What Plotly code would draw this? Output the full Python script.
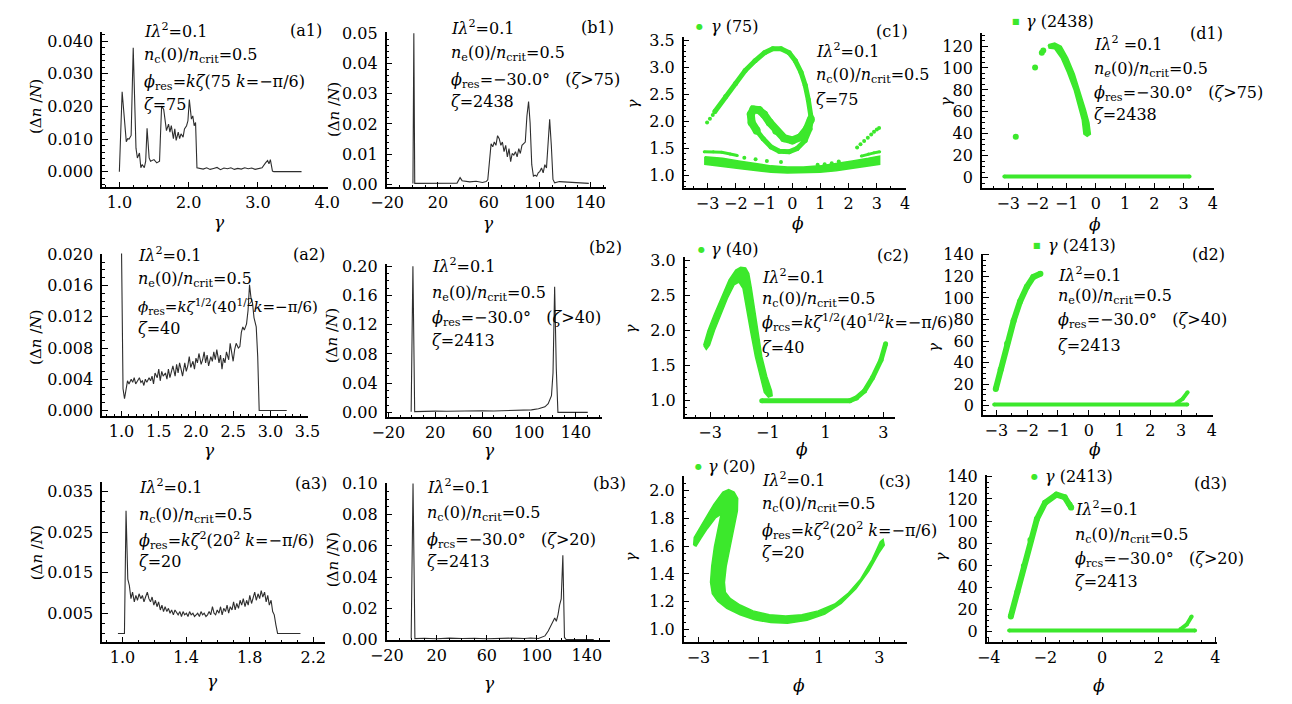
import plotly.graph_objects as go

W, H = 1292, 704

# ---------------------------------------------------------------- data
# (a) electron energy spectra, (gamma, dn/N)
A1 = [(1.00, 0.0000), (1.04, 0.0245), (1.10, 0.0092), (1.12, 0.0101), (1.14, 0.0100),
      (1.17, 0.0111), (1.20, 0.0380), (1.24, 0.0072), (1.26, 0.0042), (1.29, 0.0057),
      (1.31, 0.0012), (1.33, 0.0022), (1.36, 0.0012), (1.38, 0.0032), (1.40, 0.0133),
      (1.43, 0.0042), (1.45, 0.0032), (1.50, 0.0037), (1.54, 0.0027), (1.58, 0.0032),
      (1.59, 0.0092), (1.61, 0.0201), (1.64, 0.0191), (1.66, 0.0151), (1.68, 0.0126),
      (1.71, 0.0146), (1.73, 0.0121), (1.75, 0.0141), (1.78, 0.0101), (1.80, 0.0131),
      (1.82, 0.0096), (1.85, 0.0121), (1.87, 0.0101), (1.89, 0.0116), (1.92, 0.0106),
      (1.94, 0.0131), (1.97, 0.0141), (1.99, 0.0156), (2.01, 0.0221), (2.04, 0.0161),
      (2.06, 0.0171), (2.08, 0.0141), (2.10, 0.0151), (2.12, 0.0012), (2.16, 0.0011),
      (2.21, 0.0008), (2.26, 0.0012), (2.31, 0.0007), (2.36, 0.0010), (2.41, 0.0013),
      (2.46, 0.0006), (2.51, 0.0011), (2.56, 0.0009), (2.61, 0.0012), (2.66, 0.0007),
      (2.71, 0.0010), (2.76, 0.0008), (2.81, 0.0012), (2.86, 0.0009), (2.91, 0.0011),
      (2.96, 0.0007), (3.01, 0.0010), (3.06, 0.0012), (3.11, 0.0027), (3.14, 0.0034),
      (3.16, 0.0024), (3.18, 0.0037), (3.21, 0.0002), (3.23, 0.0000), (3.63, 0.0000)]

A2 = [(1.00, 0.0203), (1.02, 0.0028), (1.04, 0.0015), (1.06, 0.0028), (1.08, 0.0038),
      (1.10, 0.0034), (1.13, 0.0040), (1.15, 0.0036), (1.17, 0.0042), (1.19, 0.0034),
      (1.21, 0.0038), (1.24, 0.0042), (1.26, 0.0036), (1.28, 0.0038), (1.30, 0.0032),
      (1.32, 0.0040), (1.34, 0.0036), (1.37, 0.0042), (1.39, 0.0038), (1.41, 0.0044),
      (1.43, 0.0034), (1.45, 0.0048), (1.48, 0.0042), (1.50, 0.0053), (1.52, 0.0038),
      (1.54, 0.0050), (1.56, 0.0044), (1.59, 0.0048), (1.61, 0.0040), (1.63, 0.0053),
      (1.65, 0.0042), (1.67, 0.0048), (1.69, 0.0057), (1.72, 0.0044), (1.74, 0.0059),
      (1.76, 0.0048), (1.78, 0.0061), (1.80, 0.0053), (1.82, 0.0044), (1.85, 0.0061),
      (1.87, 0.0050), (1.89, 0.0057), (1.91, 0.0069), (1.93, 0.0055), (1.96, 0.0063),
      (1.98, 0.0053), (2.00, 0.0067), (2.02, 0.0061), (2.04, 0.0073), (2.07, 0.0059),
      (2.09, 0.0065), (2.11, 0.0075), (2.13, 0.0061), (2.15, 0.0071), (2.17, 0.0057),
      (2.20, 0.0069), (2.22, 0.0063), (2.24, 0.0075), (2.26, 0.0065), (2.28, 0.0078),
      (2.31, 0.0061), (2.33, 0.0071), (2.35, 0.0053), (2.37, 0.0067), (2.39, 0.0061),
      (2.41, 0.0075), (2.44, 0.0065), (2.46, 0.0086), (2.48, 0.0071), (2.50, 0.0063),
      (2.52, 0.0078), (2.54, 0.0086), (2.57, 0.0080), (2.59, 0.0082), (2.61, 0.0100),
      (2.63, 0.0107), (2.65, 0.0103), (2.68, 0.0111), (2.70, 0.0128), (2.72, 0.0161),
      (2.74, 0.0144), (2.76, 0.0138), (2.78, 0.0119), (2.81, 0.0107), (2.83, 0.0069),
      (2.85, 0.0000), (3.22, 0.0000)]

A3 = [(0.971, 0.0), (1.012, 0.0), (1.022, 0.0303), (1.033, 0.0134), (1.043, 0.0118),
      (1.053, 0.0086), (1.063, 0.0102), (1.074, 0.0078), (1.084, 0.0094), (1.094, 0.0082),
      (1.104, 0.0098), (1.115, 0.0086), (1.125, 0.0094), (1.135, 0.0078), (1.145, 0.0090),
      (1.156, 0.0102), (1.166, 0.0086), (1.176, 0.0078), (1.186, 0.0090), (1.197, 0.0070),
      (1.207, 0.0082), (1.217, 0.0066), (1.227, 0.0078), (1.238, 0.0058), (1.248, 0.0070),
      (1.258, 0.0054), (1.268, 0.0066), (1.279, 0.0054), (1.289, 0.0062), (1.299, 0.0050),
      (1.309, 0.0058), (1.320, 0.0046), (1.330, 0.0058), (1.340, 0.0050), (1.350, 0.0046),
      (1.361, 0.0054), (1.371, 0.0042), (1.381, 0.0054), (1.391, 0.0046), (1.402, 0.0050),
      (1.412, 0.0042), (1.422, 0.0054), (1.432, 0.0046), (1.443, 0.0050), (1.453, 0.0042),
      (1.463, 0.0046), (1.473, 0.0050), (1.484, 0.0042), (1.494, 0.0054), (1.504, 0.0046),
      (1.514, 0.0050), (1.525, 0.0042), (1.535, 0.0046), (1.545, 0.0054), (1.555, 0.0046),
      (1.566, 0.0066), (1.576, 0.0050), (1.586, 0.0046), (1.596, 0.0058), (1.607, 0.0050),
      (1.617, 0.0066), (1.627, 0.0046), (1.637, 0.0062), (1.648, 0.0054), (1.658, 0.0070),
      (1.668, 0.0050), (1.678, 0.0066), (1.689, 0.0058), (1.699, 0.0078), (1.709, 0.0058),
      (1.719, 0.0074), (1.730, 0.0062), (1.740, 0.0082), (1.750, 0.0070), (1.760, 0.0086),
      (1.771, 0.0066), (1.781, 0.0082), (1.791, 0.0070), (1.801, 0.0094), (1.812, 0.0074),
      (1.822, 0.0086), (1.832, 0.0102), (1.842, 0.0082), (1.853, 0.0098), (1.863, 0.0086),
      (1.873, 0.0106), (1.883, 0.0090), (1.894, 0.0102), (1.904, 0.0078), (1.914, 0.0094),
      (1.924, 0.0070), (1.935, 0.0082), (1.945, 0.0054), (1.955, 0.0046), (1.965, 0.0022),
      (1.976, 0.0), (2.120, 0.0)]

# (b) spectra at the end of the run
B1 = [(0.3, 0.0003), (1.0, 0.0500), (1.7, 0.0003), (20.0, 0.0003), (35.0, 0.0004),
      (37.4, 0.0022), (39.0, 0.0012), (45.0, 0.0008), (50.0, 0.0010), (55.0, 0.0006),
      (57.9, 0.0009), (59.2, 0.0015), (60.5, 0.0086), (61.8, 0.0134), (63.1, 0.0124),
      (64.3, 0.0140), (65.6, 0.0129), (66.9, 0.0161), (68.2, 0.0151), (69.5, 0.0129),
      (70.7, 0.0140), (72.0, 0.0108), (73.3, 0.0129), (74.6, 0.0091), (75.9, 0.0118),
      (77.2, 0.0075), (78.4, 0.0102), (79.7, 0.0097), (81.0, 0.0108), (82.3, 0.0091),
      (83.6, 0.0118), (84.8, 0.0102), (86.1, 0.0129), (87.4, 0.0134), (88.7, 0.0140),
      (90.0, 0.0226), (91.3, 0.0274), (92.5, 0.0204), (93.8, 0.0065), (95.1, 0.0027),
      (96.4, 0.0030), (97.7, 0.0027), (98.9, 0.0038), (100.2, 0.0043), (101.5, 0.0054),
      (102.8, 0.0038), (104.1, 0.0065), (105.4, 0.0054), (106.6, 0.0130), (107.9, 0.0215),
      (109.2, 0.0129), (110.5, 0.0016), (111.8, 0.0005), (115.6, 0.0009), (138.7, 0.0003)]

B2 = [(-0.5, 0.0010), (1.0, 0.2000), (2.5, 0.0010), (10, 0.0015), (20, 0.0018), (30, 0.0015),
      (40, 0.0020), (50, 0.0018), (60, 0.0022), (70, 0.0020), (80, 0.0025), (90, 0.0028),
      (97, 0.0030), (102, 0.0035), (108, 0.0050), (113.5, 0.0076), (116.3, 0.0120),
      (119.1, 0.0230), (120.4, 0.0540), (121.8, 0.1720), (123.2, 0.0600), (124.6, 0.0000),
      (150, 0.0000)]

B3 = [(-0.5, 0.0006), (1.0, 0.1000), (2.5, 0.0006), (10, 0.0008), (20, 0.0005), (30, 0.0009),
      (40, 0.0006), (50, 0.0008), (60, 0.0005), (70, 0.0007), (80, 0.0009), (90, 0.0006),
      (95, 0.0010), (101.3, 0.0006), (103.9, 0.0013), (106.5, 0.0023), (109.1, 0.0054),
      (111.7, 0.0096), (114.3, 0.0138), (115.6, 0.0117), (116.9, 0.0158), (118.2, 0.0220),
      (119.5, 0.0260), (120.8, 0.0540), (122.1, 0.0013), (123.4, 0.0000), (145.5, 0.0000)]

# (c) longitudinal phase space (phi, gamma)
C1_SPIRAL = [(-2.75, 2.18), (-2.36, 2.46), (-2.01, 2.70), (-1.67, 2.94), (-1.32, 3.12),
             (-0.98, 3.27), (-0.69, 3.34), (-0.40, 3.34), (-0.11, 3.27), (0.11, 3.12),
             (0.31, 2.91), (0.46, 2.67), (0.57, 2.40), (0.66, 2.10), (0.63, 1.86),
             (0.46, 1.65), (0.17, 1.50), (-0.11, 1.44), (-0.46, 1.45), (-0.75, 1.53),
             (-1.03, 1.68), (-1.26, 1.83)]
C1_HOOK = [(-1.26, 1.83), (-1.44, 1.98), (-1.47, 2.13), (-1.38, 2.22), (-1.18, 2.21),
           (-1.00, 2.13), (-0.80, 1.98), (-0.57, 1.83), (-0.29, 1.69), (0.00, 1.65),
           (0.29, 1.71), (0.52, 1.86), (0.66, 2.04)]
C1_BULK = [(-3.10, 1.35), (-2.47, 1.32), (-1.90, 1.27), (-1.32, 1.22), (-0.75, 1.18),
           (-0.17, 1.16), (0.40, 1.16), (0.98, 1.18), (1.55, 1.22), (2.13, 1.27),
           (2.70, 1.32), (3.10, 1.36), (3.10, 1.21), (2.70, 1.18), (2.13, 1.13),
           (1.55, 1.09), (0.98, 1.06), (0.40, 1.05), (-0.17, 1.05), (-0.75, 1.06),
           (-1.32, 1.09), (-1.90, 1.13), (-2.47, 1.17), (-3.10, 1.21)]
C1_STRAND_L = [(-3.12, 1.44), (-2.80, 1.44), (-2.50, 1.43), (-2.20, 1.40), (-1.95, 1.37)]
C1_STRAND_R = [(2.45, 1.36), (2.70, 1.40), (2.90, 1.42), (3.10, 1.44)]
C1_DOTS = [(-3.02, 1.98), (-2.92, 2.05), (-2.82, 2.12), (-1.70, 1.33), (-1.30, 1.30),
           (-0.90, 1.27), (-0.40, 1.25), (0.90, 1.20), (1.15, 1.21), (1.40, 1.23),
           (1.65, 1.26), (2.30, 1.52), (2.42, 1.58), (2.55, 1.64), (2.68, 1.70),
           (2.80, 1.76), (2.90, 1.81), (3.00, 1.85), (3.08, 1.88)]

C2_ARM = [(-3.22, 1.79), (-3.07, 2.00), (-2.85, 2.23), (-2.59, 2.49), (-2.34, 2.72),
          (-2.11, 2.86), (-1.94, 2.90), (-1.77, 2.89), (-1.66, 2.81), (-1.57, 2.60),
          (-1.46, 2.28), (-1.34, 1.95), (-1.21, 1.63), (-1.04, 1.35), (-0.87, 1.14),
          (-0.85, 1.07), (-0.98, 1.05), (-1.12, 1.12), (-1.27, 1.35), (-1.43, 1.63),
          (-1.60, 2.00), (-1.75, 2.37), (-1.86, 2.60), (-2.00, 2.69), (-2.17, 2.65),
          (-2.40, 2.46), (-2.62, 2.23), (-2.85, 2.00), (-3.02, 1.79), (-3.13, 1.73)]
C2_FLOOR = [(-1.21, 1.00), (1.84, 1.00), (2.07, 1.04), (2.35, 1.14), (2.63, 1.33),
            (2.92, 1.58), (3.08, 1.81)]

C3_BAND = [(-3.16, 1.608), (-3.14, 1.662), (-2.81, 1.783), (-2.49, 1.900), (-2.19, 1.988),
           (-2.00, 2.005), (-1.82, 1.988), (-1.70, 1.942), (-1.71, 1.853), (-1.81, 1.737),
           (-1.95, 1.597), (-2.08, 1.457), (-2.14, 1.340), (-2.11, 1.270), (-1.95, 1.224),
           (-1.62, 1.177), (-1.19, 1.135), (-0.65, 1.107), (-0.11, 1.098), (0.43, 1.107),
           (0.97, 1.135), (1.52, 1.184), (1.95, 1.259), (2.38, 1.364), (2.76, 1.503),
           (3.03, 1.632), (3.12, 1.648), (3.16, 1.608), (2.98, 1.550), (2.65, 1.422),
           (2.22, 1.294), (1.73, 1.189), (1.19, 1.112), (0.60, 1.068), (-0.05, 1.047),
           (-0.60, 1.051), (-1.14, 1.072), (-1.62, 1.107), (-2.06, 1.154), (-2.36, 1.205),
           (-2.54, 1.259), (-2.60, 1.340), (-2.56, 1.457), (-2.47, 1.597), (-2.35, 1.725),
           (-2.25, 1.830), (-2.44, 1.802), (-2.71, 1.725), (-2.92, 1.655), (-3.08, 1.601)]

# (d) phase space at the end of the run (phi, gamma)
D1_FLOOR = [(-3.13, 1.0), (3.20, 1.0)]
D1_ARM = [(-1.63, 121.2), (-1.41, 122.7), (-1.19, 119.7), (-0.97, 109.3), (-0.74, 94.5),
          (-0.52, 76.7), (-0.36, 61.9), (-0.24, 50.1), (-0.19, 39.7), (-0.30, 37.6),
          (-0.41, 39.7), (-0.47, 53.0), (-0.58, 64.9), (-0.74, 79.7), (-0.97, 96.0),
          (-1.19, 109.3), (-1.41, 117.6), (-1.60, 118.2)]
D1_DOTS = [(-2.74, 37.3), (-2.08, 100.4), (-1.85, 114.0), (-1.80, 116.0)]

D2_ARM = [(-3.02, 15.4), (-2.86, 33.5), (-2.65, 57.6), (-2.44, 78.7), (-2.23, 96.8),
          (-2.01, 110.4), (-1.80, 119.5), (-1.57, 122.5)]
D2_FLOOR = [(-3.07, 1.0), (3.20, 1.0)]
D2_TAIL = [(2.84, 2.0), (3.05, 6.3), (3.21, 12.4)]

D3_ARM = [(-3.22, 13.8), (-2.99, 35.8), (-2.76, 59.3), (-2.53, 82.8), (-2.30, 101.9),
          (-2.01, 116.6), (-1.61, 123.9), (-1.32, 121.6), (-1.15, 115.1), (-1.09, 112.2)]
D3_FLOOR = [(-3.28, 1.0), (3.28, 1.0)]
D3_TAIL = [(2.76, 2.1), (2.99, 6.5), (3.16, 13.8)]

# tick values
XT_A1 = [1.0, 2.0, 3.0, 4.0]
YT_A1 = [0.0, 0.01, 0.02, 0.03, 0.04]
XT_A2 = [1.0, 1.5, 2.0, 2.5, 3.0, 3.5]
YT_A2 = [0.0, 0.004, 0.008, 0.012, 0.016, 0.020]
XT_A3 = [1.0, 1.4, 1.8, 2.2]
YT_A3 = [0.005, 0.015, 0.025, 0.035]
XT_B = [-20, 20, 60, 100, 140]
YT_B1 = [0.0, 0.01, 0.02, 0.03, 0.04, 0.05]
YT_B2 = [0.0, 0.04, 0.08, 0.12, 0.16, 0.20]
YT_B3 = [0.0, 0.02, 0.04, 0.06, 0.08, 0.10]
XT_C1 = [-4, -3, -2, -1, 0, 1, 2, 3, 4]
YT_C1 = [1.0, 1.5, 2.0, 2.5, 3.0, 3.5]
XT_C23 = [-3, -1, 1, 3]
YT_C2 = [1.0, 1.5, 2.0, 2.5, 3.0]
YT_C3 = [1.0, 1.2, 1.4, 1.6, 1.8, 2.0]
XT_D1 = [-4, -3, -2, -1, 0, 1, 2, 3, 4]
XT_D2 = [-3, -2, -1, 0, 1, 2, 3, 4]
XT_D3 = [-4, -2, 0, 2, 4]
YT_D1 = [0, 20, 40, 60, 80, 100, 120]
YT_D23 = [0, 20, 40, 60, 80, 100, 120, 140]

# ---------------------------------------------------------------- style
GREEN = "rgb(60,232,44)"
INK = "#2e2e2e"
SERIF = "DejaVu Serif"

# panel frames in pixels: x0, x1, y_top, y_bottom, ranges, ticks, digits, minor steps
PANELS = [
    dict(x0=87, x1=318, yt=24, yb=183, xr=[0.75, 4.01], yr=[-0.0048, 0.0427],
         xv=XT_A1, xd=1, yv=YT_A1, yd=3, xm=(0, 0.2), ym=(0, 0.002)),
    dict(x0=378, x1=603, yt=24, yb=183, xr=[-20.5, 152.6], yr=[-0.001, 0.0503],
         xv=XT_B, xd=0, yv=YT_B1, yd=2, xm=(-20, 10), ym=(0, 0.002)),
    dict(x0=682, x1=909, yt=29, yb=184, xr=[-3.85, 4.02], yr=[0.766, 3.554],
         xv=XT_C1, xd=0, yv=YT_C1, yd=1, xm=(0, 0.5), ym=(0, 0.1)),
    dict(x0=987, x1=1224, yt=25, yb=184, xr=[-3.9, 4.02], yr=[-9.8, 131.6],
         xv=XT_D1, xd=0, yv=YT_D1, yd=0, xm=(0, 0.5), ym=(0, 5)),
    dict(x0=87, x1=298, yt=251, yb=418, xr=[0.738, 3.51], yr=[-0.00075, 0.0201],
         xv=XT_A2, xd=1, yv=YT_A2, yd=3, xm=(0, 0.1), ym=(0, 0.001)),
    dict(x0=378, x1=598, yt=262, yb=419, xr=[-21.5, 161.8], yr=[-0.0067, 0.2027],
         xv=XT_B, xd=0, yv=YT_B2, yd=2, xm=(-20, 10), ym=(0, 0.01)),
    dict(x0=683, x1=898, yt=255, yb=419, xr=[-3.88, 3.4], yr=[0.764, 3.04],
         xv=XT_C23, xd=0, yv=YT_C2, yd=1, xm=(0, 0.5), ym=(0, 0.1)),
    dict(x0=988, x1=1223, yt=251, yb=417, xr=[-3.44, 4.02], yr=[-9.05, 141.2],
         xv=XT_D2, xd=0, yv=YT_D23, yd=0, xm=(0, 0.5), ym=(0, 5)),
    dict(x0=87, x1=315, yt=485, yb=650, xr=[0.871, 2.274], yr=[-0.0022, 0.0375],
         xv=XT_A3, xd=1, yv=YT_A3, yd=3, xm=(1.0, 0.1), ym=(0, 0.0025)),
    dict(x0=378, x1=607, yt=486, yb=648, xr=[-20.2, 158.8], yr=[-0.0006, 0.1006],
         xv=XT_B, xd=0, yv=YT_B3, yd=2, xm=(-20, 10), ym=(0, 0.005)),
    dict(x0=682, x1=910, yt=479, yb=650, xr=[-3.49, 3.9], yr=[0.909, 2.105],
         xv=XT_C23, xd=0, yv=YT_C3, yd=1, xm=(0, 0.5), ym=(0, 0.05)),
    dict(x0=992, x1=1228, yt=478, yb=650, xr=[-4.07, 4.07], yr=[-9.7, 141.9],
         xv=XT_D3, xd=0, yv=YT_D23, yd=0, xm=(0, 0.5), ym=(0, 5)),
]


def fmt(v, nd):
    return f"{v:.{nd}f}".replace("-", "\u2212")


def refs(k):
    return ("x" if k == 1 else f"x{k}"), ("y" if k == 1 else f"y{k}")


fig = go.Figure()


def spectrum(k, pts):
    xa, ya = refs(k)
    xs, ys = zip(*pts)
    fig.add_trace(go.Scatter(x=xs, y=ys, mode="lines", xaxis=xa, yaxis=ya,
                             line=dict(color=INK, width=1.1), showlegend=False))


def band(k, pts):
    xa, ya = refs(k)
    xs, ys = zip(*pts)
    fig.add_trace(go.Scatter(x=list(xs) + [xs[0]], y=list(ys) + [ys[0]], mode="lines",
                             fill="toself", fillcolor=GREEN, xaxis=xa, yaxis=ya,
                             line=dict(color=GREEN, width=1.5), showlegend=False))


def strand(k, pts, width):
    xa, ya = refs(k)
    xs, ys = zip(*pts)
    fig.add_trace(go.Scatter(x=xs, y=ys, mode="lines+markers", xaxis=xa, yaxis=ya,
                             line=dict(color=GREEN, width=width),
                             marker=dict(color=GREEN, size=width),
                             showlegend=False))


def dots(k, pts, size=5):
    xa, ya = refs(k)
    xs, ys = zip(*pts)
    fig.add_trace(go.Scatter(x=xs, y=ys, mode="markers", xaxis=xa, yaxis=ya,
                             marker=dict(color=GREEN, size=size), showlegend=False))


# spectra
spectrum(1, A1)
spectrum(2, B1)
spectrum(5, A2)
spectrum(6, B2)
spectrum(9, A3)
spectrum(10, B3)

# phase space, zeta = 75
band(3, C1_BULK)
strand(3, C1_SPIRAL, 5)
strand(3, C1_HOOK, 8)
strand(3, C1_STRAND_L, 3)
strand(3, C1_STRAND_R, 3)
dots(3, C1_DOTS, 4)
strand(4, D1_FLOOR, 4)
band(4, D1_ARM)
dots(4, D1_DOTS, 6)

# phase space, zeta = 40
band(7, C2_ARM)
strand(7, C2_FLOOR, 5)
strand(8, D2_FLOOR, 4)
strand(8, D2_ARM, 6)
strand(8, D2_TAIL, 4)

# phase space, zeta = 20
band(11, C3_BAND)
strand(12, D3_FLOOR, 4)
strand(12, D3_ARM, 6)
strand(12, D3_TAIL, 4)

layout = dict(width=W, height=H, margin=dict(l=0, r=0, t=0, b=0), autosize=False,
              paper_bgcolor="white", plot_bgcolor="white",
              font=dict(family=SERIF, size=16, color="black"), showlegend=False)

for i, p in enumerate(PANELS):
    k = i + 1
    sfx = "" if k == 1 else str(k)
    common = dict(showline=True, linecolor="black", linewidth=1.5, showgrid=False,
                  zeroline=False, ticks="inside", ticklen=6, tickwidth=1.2,
                  tickcolor="black", tickfont=dict(family=SERIF, size=16),
                  tickmode="array", fixedrange=True)
    layout["xaxis" + sfx] = dict(
        common, domain=[p["x0"] / W, p["x1"] / W], range=p["xr"], anchor="y" + sfx,
        tickvals=p["xv"], ticktext=[fmt(v, p["xd"]) for v in p["xv"]],
        ticklabelstandoff=0,
        minor=dict(tickmode="linear", tick0=p["xm"][0], dtick=p["xm"][1],
                   ticks="inside", ticklen=3, tickwidth=1, tickcolor="black"))
    layout["yaxis" + sfx] = dict(
        common, domain=[1 - p["yb"] / H, 1 - p["yt"] / H], range=p["yr"],
        anchor="x" + sfx,
        tickvals=p["yv"], ticktext=[fmt(v, p["yd"]) for v in p["yv"]],
        ticklabelstandoff=4,
        minor=dict(tickmode="linear", tick0=p["ym"][0], dtick=p["ym"][1],
                   ticks="inside", ticklen=3, tickwidth=1, tickcolor="black"))

# ---------------------------------------------------------------- text
NB = "\u00a0"
PHI = "\u03d5"
IL = "<i>Iλ</i><sup>2</sup>=0.1"
IL_SP = "<i>Iλ</i><sup>2</sup>" + NB + "=0.1"
NC = "<i>n</i><sub>c</sub>(0)/<i>n</i><sub>crit</sub>=0.5"
NE = "<i>n</i><sub>e</sub>(0)/<i>n</i><sub>crit</sub>=0.5"
NE_IT = "<i>n</i><sub><i>e</i></sub>(0)/<i>n</i><sub>crit</sub>=0.5"
PHI_A1 = "<i>" + PHI + "</i><sub>res</sub>=<i>kζ</i>(75" + NB + "<i>k</i>=−π/6)"
PHI_A2 = ("<i>" + PHI + "</i><sub>res</sub>=<i>kζ</i><sup>1/2</sup>(40<sup>1/2</sup>"
          + "<i>k</i>=−π/6)")
PHI_C2 = "<i>" + PHI + "</i><sub>rcs</sub>=<i>kζ</i><sup>1/2</sup>(40<sup>1/2</sup><i>k</i>=−π/6)"
PHI_A3 = "<i>" + PHI + "</i><sub>res</sub>=<i>kζ</i><sup>2</sup>(20<sup>2</sup>" + NB + "<i>k</i>=−π/6)"


def phi30(sub, z):
    return ("<i>" + PHI + "</i><sub>" + sub + "</sub>=−30.0°" + NB * 3
            + "(<i>ζ</i>&gt;" + z + ")")


def zeta(v):
    return "<i>ζ</i>=" + v


# text, left edge px, centre line px, font size
LABELS = [
    (IL, 128, 22, 16), ("(a1)", 277, 22, 16), (NC, 128, 48, 16), (PHI_A1, 128, 75, 16),
    (zeta("75"), 128, 98, 16),
    (IL, 442, 19, 16), ("(b1)", 575, 19, 16), (NE, 442, 46, 16), (phi30("res", "75"), 442, 73, 16),
    (zeta("2438"), 442, 95, 16),
    (IL, 815, 43, 16), ("(c1)", 877, 23, 16), (NC, 815, 68, 16), (zeta("75"), 815, 93, 16),
    (IL_SP, 1100, 35, 16), ("(d1)", 1198, 25, 16), (NE_IT, 1100, 62, 16),
    (phi30("res", "75"), 1100, 87, 16), (zeta("2438"), 1100, 108, 16),
    (IL, 122, 252, 16), ("(a2)", 280, 252, 16), (NE, 122, 278, 16), (PHI_A2, 122, 305, 15),
    (zeta("40"), 122, 328, 16),
    (IL, 422, 263, 16), ("(b2)", 583, 245, 16), (NE, 422, 292, 16), (phi30("res", "40"), 422, 318, 16),
    (zeta("2413"), 422, 340, 16),
    (IL, 760, 275, 16), ("(c2)", 878, 253, 16), (NC, 760, 298, 16), (PHI_C2, 760, 322, 16),
    (zeta("40"), 760, 347, 16),
    (IL, 1063, 272, 16), ("(d2)", 1200, 252, 16), (NE, 1063, 295, 16),
    (phi30("res", "40"), 1063, 320, 16), (zeta("2413"), 1063, 345, 16),
    (IL, 123, 490, 16), ("(a3)", 282, 487, 16), (NC, 123, 520, 16), (PHI_A3, 123, 545, 16),
    (zeta("20"), 123, 567, 16),
    (IL, 417, 490, 16), ("(b3)", 587, 487, 16), (NC, 417, 518, 16), (phi30("rcs", "20"), 417, 545, 16),
    (zeta("2413"), 417, 567, 16),
    (IL, 760, 483, 16), ("(c3)", 880, 485, 16), (NC, 760, 508, 16), (PHI_A3, 760, 535, 16),
    (zeta("20"), 760, 558, 16),
    (IL, 1080, 513, 16), ("(d3)", 1202, 487, 16), (NC, 1080, 540, 16),
    (phi30("rcs", "20"), 1080, 565, 16), (zeta("2413"), 1080, 588, 16),
]

LEGENDS = [("●", "<i>γ</i> (75)", 698, 708, 18), ("■", "<i>γ</i> (2438)", 1022, 1030, 13),
           ("●", "<i>γ</i> (40)", 700, 708, 247), ("■", "<i>γ</i> (2413)", 1043, 1053, 243),
           ("●", "<i>γ</i> (20)", 697, 705, 470), ("●", "<i>γ</i> (2413)", 1041, 1050, 480)]

DN = "(Δ<i>n</i> /<i>N</i>)"
G = "<i>γ</i>"
F = "<i>" + PHI + "</i>"
Y_TITLES = [(DN, 20, 100), (DN, 325, 103), (G, 630, 97), (G, 950, 95),
            (DN, 20, 337), (DN, 323, 335), (G, 628, 328), (G, 938, 347),
            (DN, 20, 558), (DN, 323, 565), (G, 628, 562), (G, 945, 562)]
X_TITLES = [(G, 207, 219), (G, 482, 220), (F, 799, 220), (F, 1103, 221),
            (G, 197, 453), (G, 483, 453), (F, 803, 452), (F, 1103, 452),
            (G, 200, 690), (G, 483, 692), (F, 800, 694), (F, 1107, 694)]

ann = []
for text, x, y, size in LABELS:
    ann.append(dict(text=text, x=x / W, y=1 - y / H, xref="paper", yref="paper",
                    xanchor="left", yanchor="middle", showarrow=False,
                    font=dict(family=SERIF, size=size)))
for sym, text, xm, xt, y in LEGENDS:
    ann.append(dict(text=sym, x=xm / W, y=1 - y / H, xref="paper", yref="paper",
                    xanchor="center", yanchor="middle", showarrow=False,
                    font=dict(family=SERIF, size=8, color=GREEN)))
    ann.append(dict(text=text, x=xt / W, y=1 - y / H, xref="paper", yref="paper",
                    xanchor="left", yanchor="middle", showarrow=False,
                    font=dict(family=SERIF, size=16)))
for text, x, y in Y_TITLES:
    ann.append(dict(text=text, x=x / W, y=1 - y / H, xref="paper", yref="paper",
                    xanchor="center", yanchor="middle", showarrow=False, textangle=-90,
                    font=dict(family=SERIF, size=15)))
for text, x, y in X_TITLES:
    ann.append(dict(text=text, x=x / W, y=1 - y / H, xref="paper", yref="paper",
                    xanchor="center", yanchor="middle", showarrow=False,
                    font=dict(family=SERIF, size=17)))

layout["annotations"] = ann
fig.update_layout(**layout)
fig.write_html("out.html")
